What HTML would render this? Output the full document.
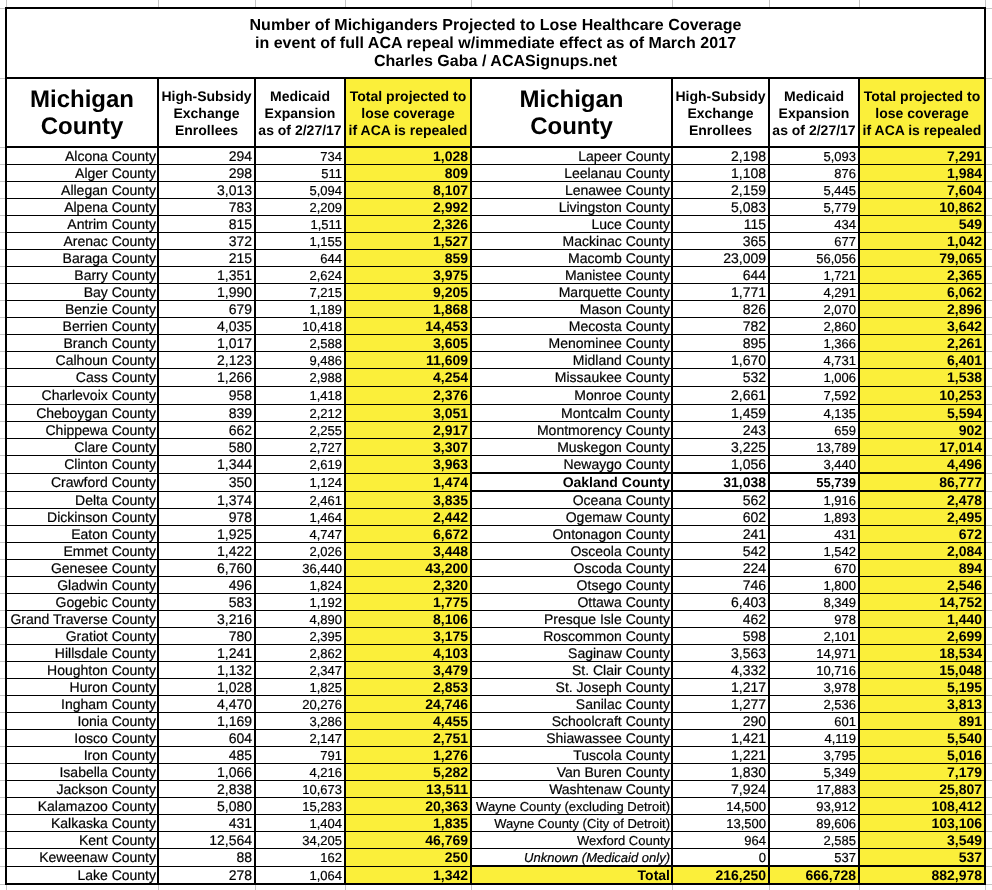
<!DOCTYPE html>
<html><head><meta charset="utf-8"><title>Michigan ACA repeal coverage loss by county</title>
<style>
html,body{margin:0;padding:0;background:#fff;}
body{width:992px;height:890px;position:relative;overflow:hidden;text-rendering:geometricPrecision;font-family:"Liberation Sans",Arial,Helvetica,sans-serif;color:#000;}
#w{position:absolute;left:0;top:0;width:992px;height:890px;will-change:transform;}
.b{position:absolute;}
.t{position:absolute;font-size:14px;line-height:17px;height:17px;white-space:nowrap;-webkit-text-stroke:0.2px #000;}
.bd{font-weight:bold;-webkit-text-stroke:0;}
.it{font-style:italic;}
.sm{font-size:13px;}
.title{position:absolute;left:5px;width:981px;top:17px;text-align:center;font-weight:bold;font-size:16px;line-height:18px;letter-spacing:0.035px;}
.hc{position:absolute;top:86px;text-align:center;font-weight:bold;font-size:24px;line-height:27px;}
.hs{position:absolute;top:88px;text-align:center;font-weight:bold;font-size:14px;line-height:17px;white-space:nowrap;}
</style></head><body><div id="w">
<div class="b" style="left:6px;top:0px;width:1px;height:7px;background:#c4c4c4"></div>
<div class="b" style="left:6px;top:885px;width:1px;height:5px;background:#c4c4c4"></div>
<div class="b" style="left:158px;top:0px;width:1px;height:7px;background:#c4c4c4"></div>
<div class="b" style="left:158px;top:885px;width:1px;height:5px;background:#c4c4c4"></div>
<div class="b" style="left:255px;top:0px;width:1px;height:7px;background:#c4c4c4"></div>
<div class="b" style="left:255px;top:885px;width:1px;height:5px;background:#c4c4c4"></div>
<div class="b" style="left:345px;top:0px;width:1px;height:7px;background:#c4c4c4"></div>
<div class="b" style="left:345px;top:885px;width:1px;height:5px;background:#c4c4c4"></div>
<div class="b" style="left:471px;top:0px;width:1px;height:7px;background:#c4c4c4"></div>
<div class="b" style="left:471px;top:885px;width:1px;height:5px;background:#c4c4c4"></div>
<div class="b" style="left:672px;top:0px;width:1px;height:7px;background:#c4c4c4"></div>
<div class="b" style="left:672px;top:885px;width:1px;height:5px;background:#c4c4c4"></div>
<div class="b" style="left:769px;top:0px;width:1px;height:7px;background:#c4c4c4"></div>
<div class="b" style="left:769px;top:885px;width:1px;height:5px;background:#c4c4c4"></div>
<div class="b" style="left:859px;top:0px;width:1px;height:7px;background:#c4c4c4"></div>
<div class="b" style="left:859px;top:885px;width:1px;height:5px;background:#c4c4c4"></div>
<div class="b" style="left:985px;top:0px;width:1px;height:7px;background:#c4c4c4"></div>
<div class="b" style="left:985px;top:885px;width:1px;height:5px;background:#c4c4c4"></div>
<div class="b" style="left:0px;top:8px;width:5px;height:1px;background:#c4c4c4"></div>
<div class="b" style="left:986px;top:8px;width:6px;height:1px;background:#c4c4c4"></div>
<div class="b" style="left:0px;top:78px;width:5px;height:1px;background:#c4c4c4"></div>
<div class="b" style="left:986px;top:78px;width:6px;height:1px;background:#c4c4c4"></div>
<div class="b" style="left:0px;top:147px;width:5px;height:1px;background:#c4c4c4"></div>
<div class="b" style="left:986px;top:147px;width:6px;height:1px;background:#c4c4c4"></div>
<div class="b" style="left:0px;top:164px;width:5px;height:1px;background:#c4c4c4"></div>
<div class="b" style="left:986px;top:164px;width:6px;height:1px;background:#c4c4c4"></div>
<div class="b" style="left:0px;top:181px;width:5px;height:1px;background:#c4c4c4"></div>
<div class="b" style="left:986px;top:181px;width:6px;height:1px;background:#c4c4c4"></div>
<div class="b" style="left:0px;top:198px;width:5px;height:1px;background:#c4c4c4"></div>
<div class="b" style="left:986px;top:198px;width:6px;height:1px;background:#c4c4c4"></div>
<div class="b" style="left:0px;top:215px;width:5px;height:1px;background:#c4c4c4"></div>
<div class="b" style="left:986px;top:215px;width:6px;height:1px;background:#c4c4c4"></div>
<div class="b" style="left:0px;top:232px;width:5px;height:1px;background:#c4c4c4"></div>
<div class="b" style="left:986px;top:232px;width:6px;height:1px;background:#c4c4c4"></div>
<div class="b" style="left:0px;top:249px;width:5px;height:1px;background:#c4c4c4"></div>
<div class="b" style="left:986px;top:249px;width:6px;height:1px;background:#c4c4c4"></div>
<div class="b" style="left:0px;top:266px;width:5px;height:1px;background:#c4c4c4"></div>
<div class="b" style="left:986px;top:266px;width:6px;height:1px;background:#c4c4c4"></div>
<div class="b" style="left:0px;top:283px;width:5px;height:1px;background:#c4c4c4"></div>
<div class="b" style="left:986px;top:283px;width:6px;height:1px;background:#c4c4c4"></div>
<div class="b" style="left:0px;top:300px;width:5px;height:1px;background:#c4c4c4"></div>
<div class="b" style="left:986px;top:300px;width:6px;height:1px;background:#c4c4c4"></div>
<div class="b" style="left:0px;top:317px;width:5px;height:1px;background:#c4c4c4"></div>
<div class="b" style="left:986px;top:317px;width:6px;height:1px;background:#c4c4c4"></div>
<div class="b" style="left:0px;top:334px;width:5px;height:1px;background:#c4c4c4"></div>
<div class="b" style="left:986px;top:334px;width:6px;height:1px;background:#c4c4c4"></div>
<div class="b" style="left:0px;top:351px;width:5px;height:1px;background:#c4c4c4"></div>
<div class="b" style="left:986px;top:351px;width:6px;height:1px;background:#c4c4c4"></div>
<div class="b" style="left:0px;top:368px;width:5px;height:1px;background:#c4c4c4"></div>
<div class="b" style="left:986px;top:368px;width:6px;height:1px;background:#c4c4c4"></div>
<div class="b" style="left:0px;top:386px;width:5px;height:1px;background:#c4c4c4"></div>
<div class="b" style="left:986px;top:386px;width:6px;height:1px;background:#c4c4c4"></div>
<div class="b" style="left:0px;top:404px;width:5px;height:1px;background:#c4c4c4"></div>
<div class="b" style="left:986px;top:404px;width:6px;height:1px;background:#c4c4c4"></div>
<div class="b" style="left:0px;top:421px;width:5px;height:1px;background:#c4c4c4"></div>
<div class="b" style="left:986px;top:421px;width:6px;height:1px;background:#c4c4c4"></div>
<div class="b" style="left:0px;top:438px;width:5px;height:1px;background:#c4c4c4"></div>
<div class="b" style="left:986px;top:438px;width:6px;height:1px;background:#c4c4c4"></div>
<div class="b" style="left:0px;top:455px;width:5px;height:1px;background:#c4c4c4"></div>
<div class="b" style="left:986px;top:455px;width:6px;height:1px;background:#c4c4c4"></div>
<div class="b" style="left:0px;top:473px;width:5px;height:1px;background:#c4c4c4"></div>
<div class="b" style="left:986px;top:473px;width:6px;height:1px;background:#c4c4c4"></div>
<div class="b" style="left:0px;top:491px;width:5px;height:1px;background:#c4c4c4"></div>
<div class="b" style="left:986px;top:491px;width:6px;height:1px;background:#c4c4c4"></div>
<div class="b" style="left:0px;top:508px;width:5px;height:1px;background:#c4c4c4"></div>
<div class="b" style="left:986px;top:508px;width:6px;height:1px;background:#c4c4c4"></div>
<div class="b" style="left:0px;top:525px;width:5px;height:1px;background:#c4c4c4"></div>
<div class="b" style="left:986px;top:525px;width:6px;height:1px;background:#c4c4c4"></div>
<div class="b" style="left:0px;top:542px;width:5px;height:1px;background:#c4c4c4"></div>
<div class="b" style="left:986px;top:542px;width:6px;height:1px;background:#c4c4c4"></div>
<div class="b" style="left:0px;top:559px;width:5px;height:1px;background:#c4c4c4"></div>
<div class="b" style="left:986px;top:559px;width:6px;height:1px;background:#c4c4c4"></div>
<div class="b" style="left:0px;top:576px;width:5px;height:1px;background:#c4c4c4"></div>
<div class="b" style="left:986px;top:576px;width:6px;height:1px;background:#c4c4c4"></div>
<div class="b" style="left:0px;top:593px;width:5px;height:1px;background:#c4c4c4"></div>
<div class="b" style="left:986px;top:593px;width:6px;height:1px;background:#c4c4c4"></div>
<div class="b" style="left:0px;top:610px;width:5px;height:1px;background:#c4c4c4"></div>
<div class="b" style="left:986px;top:610px;width:6px;height:1px;background:#c4c4c4"></div>
<div class="b" style="left:0px;top:627px;width:5px;height:1px;background:#c4c4c4"></div>
<div class="b" style="left:986px;top:627px;width:6px;height:1px;background:#c4c4c4"></div>
<div class="b" style="left:0px;top:644px;width:5px;height:1px;background:#c4c4c4"></div>
<div class="b" style="left:986px;top:644px;width:6px;height:1px;background:#c4c4c4"></div>
<div class="b" style="left:0px;top:661px;width:5px;height:1px;background:#c4c4c4"></div>
<div class="b" style="left:986px;top:661px;width:6px;height:1px;background:#c4c4c4"></div>
<div class="b" style="left:0px;top:678px;width:5px;height:1px;background:#c4c4c4"></div>
<div class="b" style="left:986px;top:678px;width:6px;height:1px;background:#c4c4c4"></div>
<div class="b" style="left:0px;top:695px;width:5px;height:1px;background:#c4c4c4"></div>
<div class="b" style="left:986px;top:695px;width:6px;height:1px;background:#c4c4c4"></div>
<div class="b" style="left:0px;top:712px;width:5px;height:1px;background:#c4c4c4"></div>
<div class="b" style="left:986px;top:712px;width:6px;height:1px;background:#c4c4c4"></div>
<div class="b" style="left:0px;top:729px;width:5px;height:1px;background:#c4c4c4"></div>
<div class="b" style="left:986px;top:729px;width:6px;height:1px;background:#c4c4c4"></div>
<div class="b" style="left:0px;top:746px;width:5px;height:1px;background:#c4c4c4"></div>
<div class="b" style="left:986px;top:746px;width:6px;height:1px;background:#c4c4c4"></div>
<div class="b" style="left:0px;top:763px;width:5px;height:1px;background:#c4c4c4"></div>
<div class="b" style="left:986px;top:763px;width:6px;height:1px;background:#c4c4c4"></div>
<div class="b" style="left:0px;top:780px;width:5px;height:1px;background:#c4c4c4"></div>
<div class="b" style="left:986px;top:780px;width:6px;height:1px;background:#c4c4c4"></div>
<div class="b" style="left:0px;top:797px;width:5px;height:1px;background:#c4c4c4"></div>
<div class="b" style="left:986px;top:797px;width:6px;height:1px;background:#c4c4c4"></div>
<div class="b" style="left:0px;top:814px;width:5px;height:1px;background:#c4c4c4"></div>
<div class="b" style="left:986px;top:814px;width:6px;height:1px;background:#c4c4c4"></div>
<div class="b" style="left:0px;top:831px;width:5px;height:1px;background:#c4c4c4"></div>
<div class="b" style="left:986px;top:831px;width:6px;height:1px;background:#c4c4c4"></div>
<div class="b" style="left:0px;top:848px;width:5px;height:1px;background:#c4c4c4"></div>
<div class="b" style="left:986px;top:848px;width:6px;height:1px;background:#c4c4c4"></div>
<div class="b" style="left:0px;top:866px;width:5px;height:1px;background:#c4c4c4"></div>
<div class="b" style="left:986px;top:866px;width:6px;height:1px;background:#c4c4c4"></div>
<div class="b" style="left:0px;top:884px;width:5px;height:1px;background:#c4c4c4"></div>
<div class="b" style="left:986px;top:884px;width:6px;height:1px;background:#c4c4c4"></div>
<div class="b" style="left:346px;top:79px;width:124px;height:804px;background:#fbef3a"></div>
<div class="b" style="left:860px;top:79px;width:124px;height:804px;background:#fbef3a"></div>
<div class="b" style="left:472px;top:867px;width:199px;height:16px;background:#fbef3a"></div>
<div class="b" style="left:673px;top:867px;width:95px;height:16px;background:#fbef3a"></div>
<div class="b" style="left:770px;top:867px;width:88px;height:16px;background:#fbef3a"></div>
<div class="b" style="left:5px;top:7px;width:981px;height:2px;background:#000"></div>
<div class="b" style="left:5px;top:883px;width:981px;height:2px;background:#000"></div>
<div class="b" style="left:5px;top:7px;width:2px;height:878px;background:#000"></div>
<div class="b" style="left:984px;top:7px;width:2px;height:878px;background:#000"></div>
<div class="b" style="left:5px;top:77px;width:981px;height:2px;background:#000"></div>
<div class="b" style="left:5px;top:146px;width:981px;height:2px;background:#000"></div>
<div class="b" style="left:157px;top:77px;width:2px;height:808px;background:#000"></div>
<div class="b" style="left:254px;top:77px;width:2px;height:808px;background:#000"></div>
<div class="b" style="left:344px;top:77px;width:2px;height:808px;background:#000"></div>
<div class="b" style="left:470px;top:77px;width:2px;height:808px;background:#000"></div>
<div class="b" style="left:671px;top:77px;width:2px;height:808px;background:#000"></div>
<div class="b" style="left:768px;top:77px;width:2px;height:808px;background:#000"></div>
<div class="b" style="left:858px;top:77px;width:2px;height:808px;background:#000"></div>
<div class="b" style="left:7px;top:164px;width:977px;height:1px;background:#000"></div>
<div class="b" style="left:7px;top:181px;width:977px;height:1px;background:#000"></div>
<div class="b" style="left:7px;top:198px;width:977px;height:1px;background:#000"></div>
<div class="b" style="left:7px;top:215px;width:977px;height:1px;background:#000"></div>
<div class="b" style="left:7px;top:232px;width:977px;height:1px;background:#000"></div>
<div class="b" style="left:7px;top:249px;width:977px;height:1px;background:#000"></div>
<div class="b" style="left:7px;top:266px;width:977px;height:1px;background:#000"></div>
<div class="b" style="left:7px;top:283px;width:977px;height:1px;background:#000"></div>
<div class="b" style="left:7px;top:300px;width:977px;height:1px;background:#000"></div>
<div class="b" style="left:7px;top:317px;width:977px;height:1px;background:#000"></div>
<div class="b" style="left:7px;top:334px;width:977px;height:1px;background:#000"></div>
<div class="b" style="left:7px;top:351px;width:977px;height:1px;background:#000"></div>
<div class="b" style="left:7px;top:368px;width:977px;height:1px;background:#000"></div>
<div class="b" style="left:7px;top:386px;width:977px;height:1px;background:#000"></div>
<div class="b" style="left:7px;top:404px;width:977px;height:1px;background:#000"></div>
<div class="b" style="left:7px;top:421px;width:977px;height:1px;background:#000"></div>
<div class="b" style="left:7px;top:438px;width:977px;height:1px;background:#000"></div>
<div class="b" style="left:7px;top:455px;width:977px;height:1px;background:#000"></div>
<div class="b" style="left:7px;top:473px;width:977px;height:1px;background:#000"></div>
<div class="b" style="left:7px;top:491px;width:977px;height:1px;background:#000"></div>
<div class="b" style="left:7px;top:508px;width:977px;height:1px;background:#000"></div>
<div class="b" style="left:7px;top:525px;width:977px;height:1px;background:#000"></div>
<div class="b" style="left:7px;top:542px;width:977px;height:1px;background:#000"></div>
<div class="b" style="left:7px;top:559px;width:977px;height:1px;background:#000"></div>
<div class="b" style="left:7px;top:576px;width:977px;height:1px;background:#000"></div>
<div class="b" style="left:7px;top:593px;width:977px;height:1px;background:#000"></div>
<div class="b" style="left:7px;top:610px;width:977px;height:1px;background:#000"></div>
<div class="b" style="left:7px;top:627px;width:977px;height:1px;background:#000"></div>
<div class="b" style="left:7px;top:644px;width:977px;height:1px;background:#000"></div>
<div class="b" style="left:7px;top:661px;width:977px;height:1px;background:#000"></div>
<div class="b" style="left:7px;top:678px;width:977px;height:1px;background:#000"></div>
<div class="b" style="left:7px;top:695px;width:977px;height:1px;background:#000"></div>
<div class="b" style="left:7px;top:712px;width:977px;height:1px;background:#000"></div>
<div class="b" style="left:7px;top:729px;width:977px;height:1px;background:#000"></div>
<div class="b" style="left:7px;top:746px;width:977px;height:1px;background:#000"></div>
<div class="b" style="left:7px;top:763px;width:977px;height:1px;background:#000"></div>
<div class="b" style="left:7px;top:780px;width:977px;height:1px;background:#000"></div>
<div class="b" style="left:7px;top:797px;width:977px;height:1px;background:#000"></div>
<div class="b" style="left:7px;top:814px;width:977px;height:1px;background:#000"></div>
<div class="b" style="left:7px;top:831px;width:977px;height:1px;background:#000"></div>
<div class="b" style="left:7px;top:848px;width:977px;height:1px;background:#000"></div>
<div class="b" style="left:7px;top:866px;width:977px;height:1px;background:#000"></div>
<div class="b" style="left:472px;top:472px;width:512px;height:2px;background:#000"></div>
<div class="b" style="left:472px;top:490px;width:512px;height:2px;background:#000"></div>
<div class="b" style="left:472px;top:865px;width:512px;height:2px;background:#000"></div>
<div class="title">Number of Michiganders Projected to Lose Healthcare Coverage<br>in event of full ACA repeal w/immediate effect as of March 2017<br>Charles Gaba / ACASignups.net</div>
<div class="hc" style="left:7px;width:150px">Michigan<br>County</div>
<div class="hs" style="left:159px;width:95px">High-Subsidy<br>Exchange<br>Enrollees</div>
<div class="hs" style="left:256px;width:88px">Medicaid<br>Expansion<br>as of 2/27/17</div>
<div class="hs" style="left:346px;width:124px">Total projected to<br>lose coverage<br>if ACA is repealed</div>
<div class="hc" style="left:472px;width:199px">Michigan<br>County</div>
<div class="hs" style="left:673px;width:95px">High-Subsidy<br>Exchange<br>Enrollees</div>
<div class="hs" style="left:770px;width:88px">Medicaid<br>Expansion<br>as of 2/27/17</div>
<div class="hs" style="left:860px;width:124px">Total projected to<br>lose coverage<br>if ACA is repealed</div>
<div class="t c" style="left:7px;top:148px;width:149px;text-align:right">Alcona County</div>
<div class="t n" style="left:159px;top:148px;width:93px;text-align:right">294</div>
<div class="t n sm" style="left:256px;top:148px;width:86px;text-align:right">734</div>
<div class="t n bd" style="left:346px;top:148px;width:122px;text-align:right">1,028</div>
<div class="t c" style="left:7px;top:165px;width:149px;text-align:right">Alger County</div>
<div class="t n" style="left:159px;top:165px;width:93px;text-align:right">298</div>
<div class="t n sm" style="left:256px;top:165px;width:86px;text-align:right">511</div>
<div class="t n bd" style="left:346px;top:165px;width:122px;text-align:right">809</div>
<div class="t c" style="left:7px;top:182px;width:149px;text-align:right">Allegan County</div>
<div class="t n" style="left:159px;top:182px;width:93px;text-align:right">3,013</div>
<div class="t n sm" style="left:256px;top:182px;width:86px;text-align:right">5,094</div>
<div class="t n bd" style="left:346px;top:182px;width:122px;text-align:right">8,107</div>
<div class="t c" style="left:7px;top:199px;width:149px;text-align:right">Alpena County</div>
<div class="t n" style="left:159px;top:199px;width:93px;text-align:right">783</div>
<div class="t n sm" style="left:256px;top:199px;width:86px;text-align:right">2,209</div>
<div class="t n bd" style="left:346px;top:199px;width:122px;text-align:right">2,992</div>
<div class="t c" style="left:7px;top:216px;width:149px;text-align:right">Antrim County</div>
<div class="t n" style="left:159px;top:216px;width:93px;text-align:right">815</div>
<div class="t n sm" style="left:256px;top:216px;width:86px;text-align:right">1,511</div>
<div class="t n bd" style="left:346px;top:216px;width:122px;text-align:right">2,326</div>
<div class="t c" style="left:7px;top:233px;width:149px;text-align:right">Arenac County</div>
<div class="t n" style="left:159px;top:233px;width:93px;text-align:right">372</div>
<div class="t n sm" style="left:256px;top:233px;width:86px;text-align:right">1,155</div>
<div class="t n bd" style="left:346px;top:233px;width:122px;text-align:right">1,527</div>
<div class="t c" style="left:7px;top:250px;width:149px;text-align:right">Baraga County</div>
<div class="t n" style="left:159px;top:250px;width:93px;text-align:right">215</div>
<div class="t n sm" style="left:256px;top:250px;width:86px;text-align:right">644</div>
<div class="t n bd" style="left:346px;top:250px;width:122px;text-align:right">859</div>
<div class="t c" style="left:7px;top:267px;width:149px;text-align:right">Barry County</div>
<div class="t n" style="left:159px;top:267px;width:93px;text-align:right">1,351</div>
<div class="t n sm" style="left:256px;top:267px;width:86px;text-align:right">2,624</div>
<div class="t n bd" style="left:346px;top:267px;width:122px;text-align:right">3,975</div>
<div class="t c" style="left:7px;top:284px;width:149px;text-align:right">Bay County</div>
<div class="t n" style="left:159px;top:284px;width:93px;text-align:right">1,990</div>
<div class="t n sm" style="left:256px;top:284px;width:86px;text-align:right">7,215</div>
<div class="t n bd" style="left:346px;top:284px;width:122px;text-align:right">9,205</div>
<div class="t c" style="left:7px;top:301px;width:149px;text-align:right">Benzie County</div>
<div class="t n" style="left:159px;top:301px;width:93px;text-align:right">679</div>
<div class="t n sm" style="left:256px;top:301px;width:86px;text-align:right">1,189</div>
<div class="t n bd" style="left:346px;top:301px;width:122px;text-align:right">1,868</div>
<div class="t c" style="left:7px;top:318px;width:149px;text-align:right">Berrien County</div>
<div class="t n" style="left:159px;top:318px;width:93px;text-align:right">4,035</div>
<div class="t n sm" style="left:256px;top:318px;width:86px;text-align:right">10,418</div>
<div class="t n bd" style="left:346px;top:318px;width:122px;text-align:right">14,453</div>
<div class="t c" style="left:7px;top:335px;width:149px;text-align:right">Branch County</div>
<div class="t n" style="left:159px;top:335px;width:93px;text-align:right">1,017</div>
<div class="t n sm" style="left:256px;top:335px;width:86px;text-align:right">2,588</div>
<div class="t n bd" style="left:346px;top:335px;width:122px;text-align:right">3,605</div>
<div class="t c" style="left:7px;top:352px;width:149px;text-align:right">Calhoun County</div>
<div class="t n" style="left:159px;top:352px;width:93px;text-align:right">2,123</div>
<div class="t n sm" style="left:256px;top:352px;width:86px;text-align:right">9,486</div>
<div class="t n bd" style="left:346px;top:352px;width:122px;text-align:right">11,609</div>
<div class="t c" style="left:7px;top:369px;width:149px;text-align:right">Cass County</div>
<div class="t n" style="left:159px;top:369px;width:93px;text-align:right">1,266</div>
<div class="t n sm" style="left:256px;top:369px;width:86px;text-align:right">2,988</div>
<div class="t n bd" style="left:346px;top:369px;width:122px;text-align:right">4,254</div>
<div class="t c" style="left:7px;top:387px;width:149px;text-align:right">Charlevoix County</div>
<div class="t n" style="left:159px;top:387px;width:93px;text-align:right">958</div>
<div class="t n sm" style="left:256px;top:387px;width:86px;text-align:right">1,418</div>
<div class="t n bd" style="left:346px;top:387px;width:122px;text-align:right">2,376</div>
<div class="t c" style="left:7px;top:405px;width:149px;text-align:right">Cheboygan County</div>
<div class="t n" style="left:159px;top:405px;width:93px;text-align:right">839</div>
<div class="t n sm" style="left:256px;top:405px;width:86px;text-align:right">2,212</div>
<div class="t n bd" style="left:346px;top:405px;width:122px;text-align:right">3,051</div>
<div class="t c" style="left:7px;top:422px;width:149px;text-align:right">Chippewa County</div>
<div class="t n" style="left:159px;top:422px;width:93px;text-align:right">662</div>
<div class="t n sm" style="left:256px;top:422px;width:86px;text-align:right">2,255</div>
<div class="t n bd" style="left:346px;top:422px;width:122px;text-align:right">2,917</div>
<div class="t c" style="left:7px;top:439px;width:149px;text-align:right">Clare County</div>
<div class="t n" style="left:159px;top:439px;width:93px;text-align:right">580</div>
<div class="t n sm" style="left:256px;top:439px;width:86px;text-align:right">2,727</div>
<div class="t n bd" style="left:346px;top:439px;width:122px;text-align:right">3,307</div>
<div class="t c" style="left:7px;top:456px;width:149px;text-align:right">Clinton County</div>
<div class="t n" style="left:159px;top:456px;width:93px;text-align:right">1,344</div>
<div class="t n sm" style="left:256px;top:456px;width:86px;text-align:right">2,619</div>
<div class="t n bd" style="left:346px;top:456px;width:122px;text-align:right">3,963</div>
<div class="t c" style="left:7px;top:474px;width:149px;text-align:right">Crawford County</div>
<div class="t n" style="left:159px;top:474px;width:93px;text-align:right">350</div>
<div class="t n sm" style="left:256px;top:474px;width:86px;text-align:right">1,124</div>
<div class="t n bd" style="left:346px;top:474px;width:122px;text-align:right">1,474</div>
<div class="t c" style="left:7px;top:492px;width:149px;text-align:right">Delta County</div>
<div class="t n" style="left:159px;top:492px;width:93px;text-align:right">1,374</div>
<div class="t n sm" style="left:256px;top:492px;width:86px;text-align:right">2,461</div>
<div class="t n bd" style="left:346px;top:492px;width:122px;text-align:right">3,835</div>
<div class="t c" style="left:7px;top:509px;width:149px;text-align:right">Dickinson County</div>
<div class="t n" style="left:159px;top:509px;width:93px;text-align:right">978</div>
<div class="t n sm" style="left:256px;top:509px;width:86px;text-align:right">1,464</div>
<div class="t n bd" style="left:346px;top:509px;width:122px;text-align:right">2,442</div>
<div class="t c" style="left:7px;top:526px;width:149px;text-align:right">Eaton County</div>
<div class="t n" style="left:159px;top:526px;width:93px;text-align:right">1,925</div>
<div class="t n sm" style="left:256px;top:526px;width:86px;text-align:right">4,747</div>
<div class="t n bd" style="left:346px;top:526px;width:122px;text-align:right">6,672</div>
<div class="t c" style="left:7px;top:543px;width:149px;text-align:right">Emmet County</div>
<div class="t n" style="left:159px;top:543px;width:93px;text-align:right">1,422</div>
<div class="t n sm" style="left:256px;top:543px;width:86px;text-align:right">2,026</div>
<div class="t n bd" style="left:346px;top:543px;width:122px;text-align:right">3,448</div>
<div class="t c" style="left:7px;top:560px;width:149px;text-align:right">Genesee County</div>
<div class="t n" style="left:159px;top:560px;width:93px;text-align:right">6,760</div>
<div class="t n sm" style="left:256px;top:560px;width:86px;text-align:right">36,440</div>
<div class="t n bd" style="left:346px;top:560px;width:122px;text-align:right">43,200</div>
<div class="t c" style="left:7px;top:577px;width:149px;text-align:right">Gladwin County</div>
<div class="t n" style="left:159px;top:577px;width:93px;text-align:right">496</div>
<div class="t n sm" style="left:256px;top:577px;width:86px;text-align:right">1,824</div>
<div class="t n bd" style="left:346px;top:577px;width:122px;text-align:right">2,320</div>
<div class="t c" style="left:7px;top:594px;width:149px;text-align:right">Gogebic County</div>
<div class="t n" style="left:159px;top:594px;width:93px;text-align:right">583</div>
<div class="t n sm" style="left:256px;top:594px;width:86px;text-align:right">1,192</div>
<div class="t n bd" style="left:346px;top:594px;width:122px;text-align:right">1,775</div>
<div class="t c" style="left:7px;top:611px;width:149px;text-align:right">Grand Traverse County</div>
<div class="t n" style="left:159px;top:611px;width:93px;text-align:right">3,216</div>
<div class="t n sm" style="left:256px;top:611px;width:86px;text-align:right">4,890</div>
<div class="t n bd" style="left:346px;top:611px;width:122px;text-align:right">8,106</div>
<div class="t c" style="left:7px;top:628px;width:149px;text-align:right">Gratiot County</div>
<div class="t n" style="left:159px;top:628px;width:93px;text-align:right">780</div>
<div class="t n sm" style="left:256px;top:628px;width:86px;text-align:right">2,395</div>
<div class="t n bd" style="left:346px;top:628px;width:122px;text-align:right">3,175</div>
<div class="t c" style="left:7px;top:645px;width:149px;text-align:right">Hillsdale County</div>
<div class="t n" style="left:159px;top:645px;width:93px;text-align:right">1,241</div>
<div class="t n sm" style="left:256px;top:645px;width:86px;text-align:right">2,862</div>
<div class="t n bd" style="left:346px;top:645px;width:122px;text-align:right">4,103</div>
<div class="t c" style="left:7px;top:662px;width:149px;text-align:right">Houghton County</div>
<div class="t n" style="left:159px;top:662px;width:93px;text-align:right">1,132</div>
<div class="t n sm" style="left:256px;top:662px;width:86px;text-align:right">2,347</div>
<div class="t n bd" style="left:346px;top:662px;width:122px;text-align:right">3,479</div>
<div class="t c" style="left:7px;top:679px;width:149px;text-align:right">Huron County</div>
<div class="t n" style="left:159px;top:679px;width:93px;text-align:right">1,028</div>
<div class="t n sm" style="left:256px;top:679px;width:86px;text-align:right">1,825</div>
<div class="t n bd" style="left:346px;top:679px;width:122px;text-align:right">2,853</div>
<div class="t c" style="left:7px;top:696px;width:149px;text-align:right">Ingham County</div>
<div class="t n" style="left:159px;top:696px;width:93px;text-align:right">4,470</div>
<div class="t n sm" style="left:256px;top:696px;width:86px;text-align:right">20,276</div>
<div class="t n bd" style="left:346px;top:696px;width:122px;text-align:right">24,746</div>
<div class="t c" style="left:7px;top:713px;width:149px;text-align:right">Ionia County</div>
<div class="t n" style="left:159px;top:713px;width:93px;text-align:right">1,169</div>
<div class="t n sm" style="left:256px;top:713px;width:86px;text-align:right">3,286</div>
<div class="t n bd" style="left:346px;top:713px;width:122px;text-align:right">4,455</div>
<div class="t c" style="left:7px;top:730px;width:149px;text-align:right">Iosco County</div>
<div class="t n" style="left:159px;top:730px;width:93px;text-align:right">604</div>
<div class="t n sm" style="left:256px;top:730px;width:86px;text-align:right">2,147</div>
<div class="t n bd" style="left:346px;top:730px;width:122px;text-align:right">2,751</div>
<div class="t c" style="left:7px;top:747px;width:149px;text-align:right">Iron County</div>
<div class="t n" style="left:159px;top:747px;width:93px;text-align:right">485</div>
<div class="t n sm" style="left:256px;top:747px;width:86px;text-align:right">791</div>
<div class="t n bd" style="left:346px;top:747px;width:122px;text-align:right">1,276</div>
<div class="t c" style="left:7px;top:764px;width:149px;text-align:right">Isabella County</div>
<div class="t n" style="left:159px;top:764px;width:93px;text-align:right">1,066</div>
<div class="t n sm" style="left:256px;top:764px;width:86px;text-align:right">4,216</div>
<div class="t n bd" style="left:346px;top:764px;width:122px;text-align:right">5,282</div>
<div class="t c" style="left:7px;top:781px;width:149px;text-align:right">Jackson County</div>
<div class="t n" style="left:159px;top:781px;width:93px;text-align:right">2,838</div>
<div class="t n sm" style="left:256px;top:781px;width:86px;text-align:right">10,673</div>
<div class="t n bd" style="left:346px;top:781px;width:122px;text-align:right">13,511</div>
<div class="t c" style="left:7px;top:798px;width:149px;text-align:right">Kalamazoo County</div>
<div class="t n" style="left:159px;top:798px;width:93px;text-align:right">5,080</div>
<div class="t n sm" style="left:256px;top:798px;width:86px;text-align:right">15,283</div>
<div class="t n bd" style="left:346px;top:798px;width:122px;text-align:right">20,363</div>
<div class="t c" style="left:7px;top:815px;width:149px;text-align:right">Kalkaska County</div>
<div class="t n" style="left:159px;top:815px;width:93px;text-align:right">431</div>
<div class="t n sm" style="left:256px;top:815px;width:86px;text-align:right">1,404</div>
<div class="t n bd" style="left:346px;top:815px;width:122px;text-align:right">1,835</div>
<div class="t c" style="left:7px;top:832px;width:149px;text-align:right">Kent County</div>
<div class="t n" style="left:159px;top:832px;width:93px;text-align:right">12,564</div>
<div class="t n sm" style="left:256px;top:832px;width:86px;text-align:right">34,205</div>
<div class="t n bd" style="left:346px;top:832px;width:122px;text-align:right">46,769</div>
<div class="t c" style="left:7px;top:849px;width:149px;text-align:right">Keweenaw County</div>
<div class="t n" style="left:159px;top:849px;width:93px;text-align:right">88</div>
<div class="t n sm" style="left:256px;top:849px;width:86px;text-align:right">162</div>
<div class="t n bd" style="left:346px;top:849px;width:122px;text-align:right">250</div>
<div class="t c" style="left:7px;top:867px;width:149px;text-align:right">Lake County</div>
<div class="t n" style="left:159px;top:867px;width:93px;text-align:right">278</div>
<div class="t n sm" style="left:256px;top:867px;width:86px;text-align:right">1,064</div>
<div class="t n bd" style="left:346px;top:867px;width:122px;text-align:right">1,342</div>
<div class="t c" style="left:472px;top:148px;width:198px;text-align:right">Lapeer County</div>
<div class="t n" style="left:673px;top:148px;width:93px;text-align:right">2,198</div>
<div class="t n sm" style="left:770px;top:148px;width:86px;text-align:right">5,093</div>
<div class="t n bd" style="left:860px;top:148px;width:122px;text-align:right">7,291</div>
<div class="t c" style="left:472px;top:165px;width:198px;text-align:right">Leelanau County</div>
<div class="t n" style="left:673px;top:165px;width:93px;text-align:right">1,108</div>
<div class="t n sm" style="left:770px;top:165px;width:86px;text-align:right">876</div>
<div class="t n bd" style="left:860px;top:165px;width:122px;text-align:right">1,984</div>
<div class="t c" style="left:472px;top:182px;width:198px;text-align:right">Lenawee County</div>
<div class="t n" style="left:673px;top:182px;width:93px;text-align:right">2,159</div>
<div class="t n sm" style="left:770px;top:182px;width:86px;text-align:right">5,445</div>
<div class="t n bd" style="left:860px;top:182px;width:122px;text-align:right">7,604</div>
<div class="t c" style="left:472px;top:199px;width:198px;text-align:right">Livingston County</div>
<div class="t n" style="left:673px;top:199px;width:93px;text-align:right">5,083</div>
<div class="t n sm" style="left:770px;top:199px;width:86px;text-align:right">5,779</div>
<div class="t n bd" style="left:860px;top:199px;width:122px;text-align:right">10,862</div>
<div class="t c" style="left:472px;top:216px;width:198px;text-align:right">Luce County</div>
<div class="t n" style="left:673px;top:216px;width:93px;text-align:right">115</div>
<div class="t n sm" style="left:770px;top:216px;width:86px;text-align:right">434</div>
<div class="t n bd" style="left:860px;top:216px;width:122px;text-align:right">549</div>
<div class="t c" style="left:472px;top:233px;width:198px;text-align:right">Mackinac County</div>
<div class="t n" style="left:673px;top:233px;width:93px;text-align:right">365</div>
<div class="t n sm" style="left:770px;top:233px;width:86px;text-align:right">677</div>
<div class="t n bd" style="left:860px;top:233px;width:122px;text-align:right">1,042</div>
<div class="t c" style="left:472px;top:250px;width:198px;text-align:right">Macomb County</div>
<div class="t n" style="left:673px;top:250px;width:93px;text-align:right">23,009</div>
<div class="t n sm" style="left:770px;top:250px;width:86px;text-align:right">56,056</div>
<div class="t n bd" style="left:860px;top:250px;width:122px;text-align:right">79,065</div>
<div class="t c" style="left:472px;top:267px;width:198px;text-align:right">Manistee County</div>
<div class="t n" style="left:673px;top:267px;width:93px;text-align:right">644</div>
<div class="t n sm" style="left:770px;top:267px;width:86px;text-align:right">1,721</div>
<div class="t n bd" style="left:860px;top:267px;width:122px;text-align:right">2,365</div>
<div class="t c" style="left:472px;top:284px;width:198px;text-align:right">Marquette County</div>
<div class="t n" style="left:673px;top:284px;width:93px;text-align:right">1,771</div>
<div class="t n sm" style="left:770px;top:284px;width:86px;text-align:right">4,291</div>
<div class="t n bd" style="left:860px;top:284px;width:122px;text-align:right">6,062</div>
<div class="t c" style="left:472px;top:301px;width:198px;text-align:right">Mason County</div>
<div class="t n" style="left:673px;top:301px;width:93px;text-align:right">826</div>
<div class="t n sm" style="left:770px;top:301px;width:86px;text-align:right">2,070</div>
<div class="t n bd" style="left:860px;top:301px;width:122px;text-align:right">2,896</div>
<div class="t c" style="left:472px;top:318px;width:198px;text-align:right">Mecosta County</div>
<div class="t n" style="left:673px;top:318px;width:93px;text-align:right">782</div>
<div class="t n sm" style="left:770px;top:318px;width:86px;text-align:right">2,860</div>
<div class="t n bd" style="left:860px;top:318px;width:122px;text-align:right">3,642</div>
<div class="t c" style="left:472px;top:335px;width:198px;text-align:right">Menominee County</div>
<div class="t n" style="left:673px;top:335px;width:93px;text-align:right">895</div>
<div class="t n sm" style="left:770px;top:335px;width:86px;text-align:right">1,366</div>
<div class="t n bd" style="left:860px;top:335px;width:122px;text-align:right">2,261</div>
<div class="t c" style="left:472px;top:352px;width:198px;text-align:right">Midland County</div>
<div class="t n" style="left:673px;top:352px;width:93px;text-align:right">1,670</div>
<div class="t n sm" style="left:770px;top:352px;width:86px;text-align:right">4,731</div>
<div class="t n bd" style="left:860px;top:352px;width:122px;text-align:right">6,401</div>
<div class="t c" style="left:472px;top:369px;width:198px;text-align:right">Missaukee County</div>
<div class="t n" style="left:673px;top:369px;width:93px;text-align:right">532</div>
<div class="t n sm" style="left:770px;top:369px;width:86px;text-align:right">1,006</div>
<div class="t n bd" style="left:860px;top:369px;width:122px;text-align:right">1,538</div>
<div class="t c" style="left:472px;top:387px;width:198px;text-align:right">Monroe County</div>
<div class="t n" style="left:673px;top:387px;width:93px;text-align:right">2,661</div>
<div class="t n sm" style="left:770px;top:387px;width:86px;text-align:right">7,592</div>
<div class="t n bd" style="left:860px;top:387px;width:122px;text-align:right">10,253</div>
<div class="t c" style="left:472px;top:405px;width:198px;text-align:right">Montcalm County</div>
<div class="t n" style="left:673px;top:405px;width:93px;text-align:right">1,459</div>
<div class="t n sm" style="left:770px;top:405px;width:86px;text-align:right">4,135</div>
<div class="t n bd" style="left:860px;top:405px;width:122px;text-align:right">5,594</div>
<div class="t c" style="left:472px;top:422px;width:198px;text-align:right">Montmorency County</div>
<div class="t n" style="left:673px;top:422px;width:93px;text-align:right">243</div>
<div class="t n sm" style="left:770px;top:422px;width:86px;text-align:right">659</div>
<div class="t n bd" style="left:860px;top:422px;width:122px;text-align:right">902</div>
<div class="t c" style="left:472px;top:439px;width:198px;text-align:right">Muskegon County</div>
<div class="t n" style="left:673px;top:439px;width:93px;text-align:right">3,225</div>
<div class="t n sm" style="left:770px;top:439px;width:86px;text-align:right">13,789</div>
<div class="t n bd" style="left:860px;top:439px;width:122px;text-align:right">17,014</div>
<div class="t c" style="left:472px;top:456px;width:198px;text-align:right">Newaygo County</div>
<div class="t n" style="left:673px;top:456px;width:93px;text-align:right">1,056</div>
<div class="t n sm" style="left:770px;top:456px;width:86px;text-align:right">3,440</div>
<div class="t n bd" style="left:860px;top:456px;width:122px;text-align:right">4,496</div>
<div class="t c bd" style="left:472px;top:474px;width:198px;text-align:right">Oakland County</div>
<div class="t n bd" style="left:673px;top:474px;width:93px;text-align:right">31,038</div>
<div class="t n bd sm" style="left:770px;top:474px;width:86px;text-align:right">55,739</div>
<div class="t n bd" style="left:860px;top:474px;width:122px;text-align:right">86,777</div>
<div class="t c" style="left:472px;top:492px;width:198px;text-align:right">Oceana County</div>
<div class="t n" style="left:673px;top:492px;width:93px;text-align:right">562</div>
<div class="t n sm" style="left:770px;top:492px;width:86px;text-align:right">1,916</div>
<div class="t n bd" style="left:860px;top:492px;width:122px;text-align:right">2,478</div>
<div class="t c" style="left:472px;top:509px;width:198px;text-align:right">Ogemaw County</div>
<div class="t n" style="left:673px;top:509px;width:93px;text-align:right">602</div>
<div class="t n sm" style="left:770px;top:509px;width:86px;text-align:right">1,893</div>
<div class="t n bd" style="left:860px;top:509px;width:122px;text-align:right">2,495</div>
<div class="t c" style="left:472px;top:526px;width:198px;text-align:right">Ontonagon County</div>
<div class="t n" style="left:673px;top:526px;width:93px;text-align:right">241</div>
<div class="t n sm" style="left:770px;top:526px;width:86px;text-align:right">431</div>
<div class="t n bd" style="left:860px;top:526px;width:122px;text-align:right">672</div>
<div class="t c" style="left:472px;top:543px;width:198px;text-align:right">Osceola County</div>
<div class="t n" style="left:673px;top:543px;width:93px;text-align:right">542</div>
<div class="t n sm" style="left:770px;top:543px;width:86px;text-align:right">1,542</div>
<div class="t n bd" style="left:860px;top:543px;width:122px;text-align:right">2,084</div>
<div class="t c" style="left:472px;top:560px;width:198px;text-align:right">Oscoda County</div>
<div class="t n" style="left:673px;top:560px;width:93px;text-align:right">224</div>
<div class="t n sm" style="left:770px;top:560px;width:86px;text-align:right">670</div>
<div class="t n bd" style="left:860px;top:560px;width:122px;text-align:right">894</div>
<div class="t c" style="left:472px;top:577px;width:198px;text-align:right">Otsego County</div>
<div class="t n" style="left:673px;top:577px;width:93px;text-align:right">746</div>
<div class="t n sm" style="left:770px;top:577px;width:86px;text-align:right">1,800</div>
<div class="t n bd" style="left:860px;top:577px;width:122px;text-align:right">2,546</div>
<div class="t c" style="left:472px;top:594px;width:198px;text-align:right">Ottawa County</div>
<div class="t n" style="left:673px;top:594px;width:93px;text-align:right">6,403</div>
<div class="t n sm" style="left:770px;top:594px;width:86px;text-align:right">8,349</div>
<div class="t n bd" style="left:860px;top:594px;width:122px;text-align:right">14,752</div>
<div class="t c" style="left:472px;top:611px;width:198px;text-align:right">Presque Isle County</div>
<div class="t n" style="left:673px;top:611px;width:93px;text-align:right">462</div>
<div class="t n sm" style="left:770px;top:611px;width:86px;text-align:right">978</div>
<div class="t n bd" style="left:860px;top:611px;width:122px;text-align:right">1,440</div>
<div class="t c" style="left:472px;top:628px;width:198px;text-align:right">Roscommon County</div>
<div class="t n" style="left:673px;top:628px;width:93px;text-align:right">598</div>
<div class="t n sm" style="left:770px;top:628px;width:86px;text-align:right">2,101</div>
<div class="t n bd" style="left:860px;top:628px;width:122px;text-align:right">2,699</div>
<div class="t c" style="left:472px;top:645px;width:198px;text-align:right">Saginaw County</div>
<div class="t n" style="left:673px;top:645px;width:93px;text-align:right">3,563</div>
<div class="t n sm" style="left:770px;top:645px;width:86px;text-align:right">14,971</div>
<div class="t n bd" style="left:860px;top:645px;width:122px;text-align:right">18,534</div>
<div class="t c" style="left:472px;top:662px;width:198px;text-align:right">St. Clair County</div>
<div class="t n" style="left:673px;top:662px;width:93px;text-align:right">4,332</div>
<div class="t n sm" style="left:770px;top:662px;width:86px;text-align:right">10,716</div>
<div class="t n bd" style="left:860px;top:662px;width:122px;text-align:right">15,048</div>
<div class="t c" style="left:472px;top:679px;width:198px;text-align:right">St. Joseph County</div>
<div class="t n" style="left:673px;top:679px;width:93px;text-align:right">1,217</div>
<div class="t n sm" style="left:770px;top:679px;width:86px;text-align:right">3,978</div>
<div class="t n bd" style="left:860px;top:679px;width:122px;text-align:right">5,195</div>
<div class="t c" style="left:472px;top:696px;width:198px;text-align:right">Sanilac County</div>
<div class="t n" style="left:673px;top:696px;width:93px;text-align:right">1,277</div>
<div class="t n sm" style="left:770px;top:696px;width:86px;text-align:right">2,536</div>
<div class="t n bd" style="left:860px;top:696px;width:122px;text-align:right">3,813</div>
<div class="t c" style="left:472px;top:713px;width:198px;text-align:right">Schoolcraft County</div>
<div class="t n" style="left:673px;top:713px;width:93px;text-align:right">290</div>
<div class="t n sm" style="left:770px;top:713px;width:86px;text-align:right">601</div>
<div class="t n bd" style="left:860px;top:713px;width:122px;text-align:right">891</div>
<div class="t c" style="left:472px;top:730px;width:198px;text-align:right">Shiawassee County</div>
<div class="t n" style="left:673px;top:730px;width:93px;text-align:right">1,421</div>
<div class="t n sm" style="left:770px;top:730px;width:86px;text-align:right">4,119</div>
<div class="t n bd" style="left:860px;top:730px;width:122px;text-align:right">5,540</div>
<div class="t c" style="left:472px;top:747px;width:198px;text-align:right">Tuscola County</div>
<div class="t n" style="left:673px;top:747px;width:93px;text-align:right">1,221</div>
<div class="t n sm" style="left:770px;top:747px;width:86px;text-align:right">3,795</div>
<div class="t n bd" style="left:860px;top:747px;width:122px;text-align:right">5,016</div>
<div class="t c" style="left:472px;top:764px;width:198px;text-align:right">Van Buren County</div>
<div class="t n" style="left:673px;top:764px;width:93px;text-align:right">1,830</div>
<div class="t n sm" style="left:770px;top:764px;width:86px;text-align:right">5,349</div>
<div class="t n bd" style="left:860px;top:764px;width:122px;text-align:right">7,179</div>
<div class="t c" style="left:472px;top:781px;width:198px;text-align:right">Washtenaw County</div>
<div class="t n" style="left:673px;top:781px;width:93px;text-align:right">7,924</div>
<div class="t n sm" style="left:770px;top:781px;width:86px;text-align:right">17,883</div>
<div class="t n bd" style="left:860px;top:781px;width:122px;text-align:right">25,807</div>
<div class="t c sm" style="left:472px;top:798px;width:198px;text-align:right">Wayne County (excluding Detroit)</div>
<div class="t n sm" style="left:673px;top:798px;width:93px;text-align:right">14,500</div>
<div class="t n sm" style="left:770px;top:798px;width:86px;text-align:right">93,912</div>
<div class="t n bd" style="left:860px;top:798px;width:122px;text-align:right">108,412</div>
<div class="t c sm" style="left:472px;top:815px;width:198px;text-align:right">Wayne County (City of Detroit)</div>
<div class="t n sm" style="left:673px;top:815px;width:93px;text-align:right">13,500</div>
<div class="t n sm" style="left:770px;top:815px;width:86px;text-align:right">89,606</div>
<div class="t n bd" style="left:860px;top:815px;width:122px;text-align:right">103,106</div>
<div class="t c sm" style="left:472px;top:832px;width:198px;text-align:right">Wexford County</div>
<div class="t n sm" style="left:673px;top:832px;width:93px;text-align:right">964</div>
<div class="t n sm" style="left:770px;top:832px;width:86px;text-align:right">2,585</div>
<div class="t n bd" style="left:860px;top:832px;width:122px;text-align:right">3,549</div>
<div class="t c it sm" style="left:472px;top:849px;width:198px;text-align:right">Unknown (Medicaid only)</div>
<div class="t n sm" style="left:673px;top:849px;width:93px;text-align:right">0</div>
<div class="t n sm" style="left:770px;top:849px;width:86px;text-align:right">537</div>
<div class="t n bd" style="left:860px;top:849px;width:122px;text-align:right">537</div>
<div class="t c bd" style="left:472px;top:867px;width:198px;text-align:right">Total</div>
<div class="t n bd" style="left:673px;top:867px;width:93px;text-align:right">216,250</div>
<div class="t n bd" style="left:770px;top:867px;width:86px;text-align:right">666,728</div>
<div class="t n bd" style="left:860px;top:867px;width:122px;text-align:right">882,978</div>
</div></body></html>
